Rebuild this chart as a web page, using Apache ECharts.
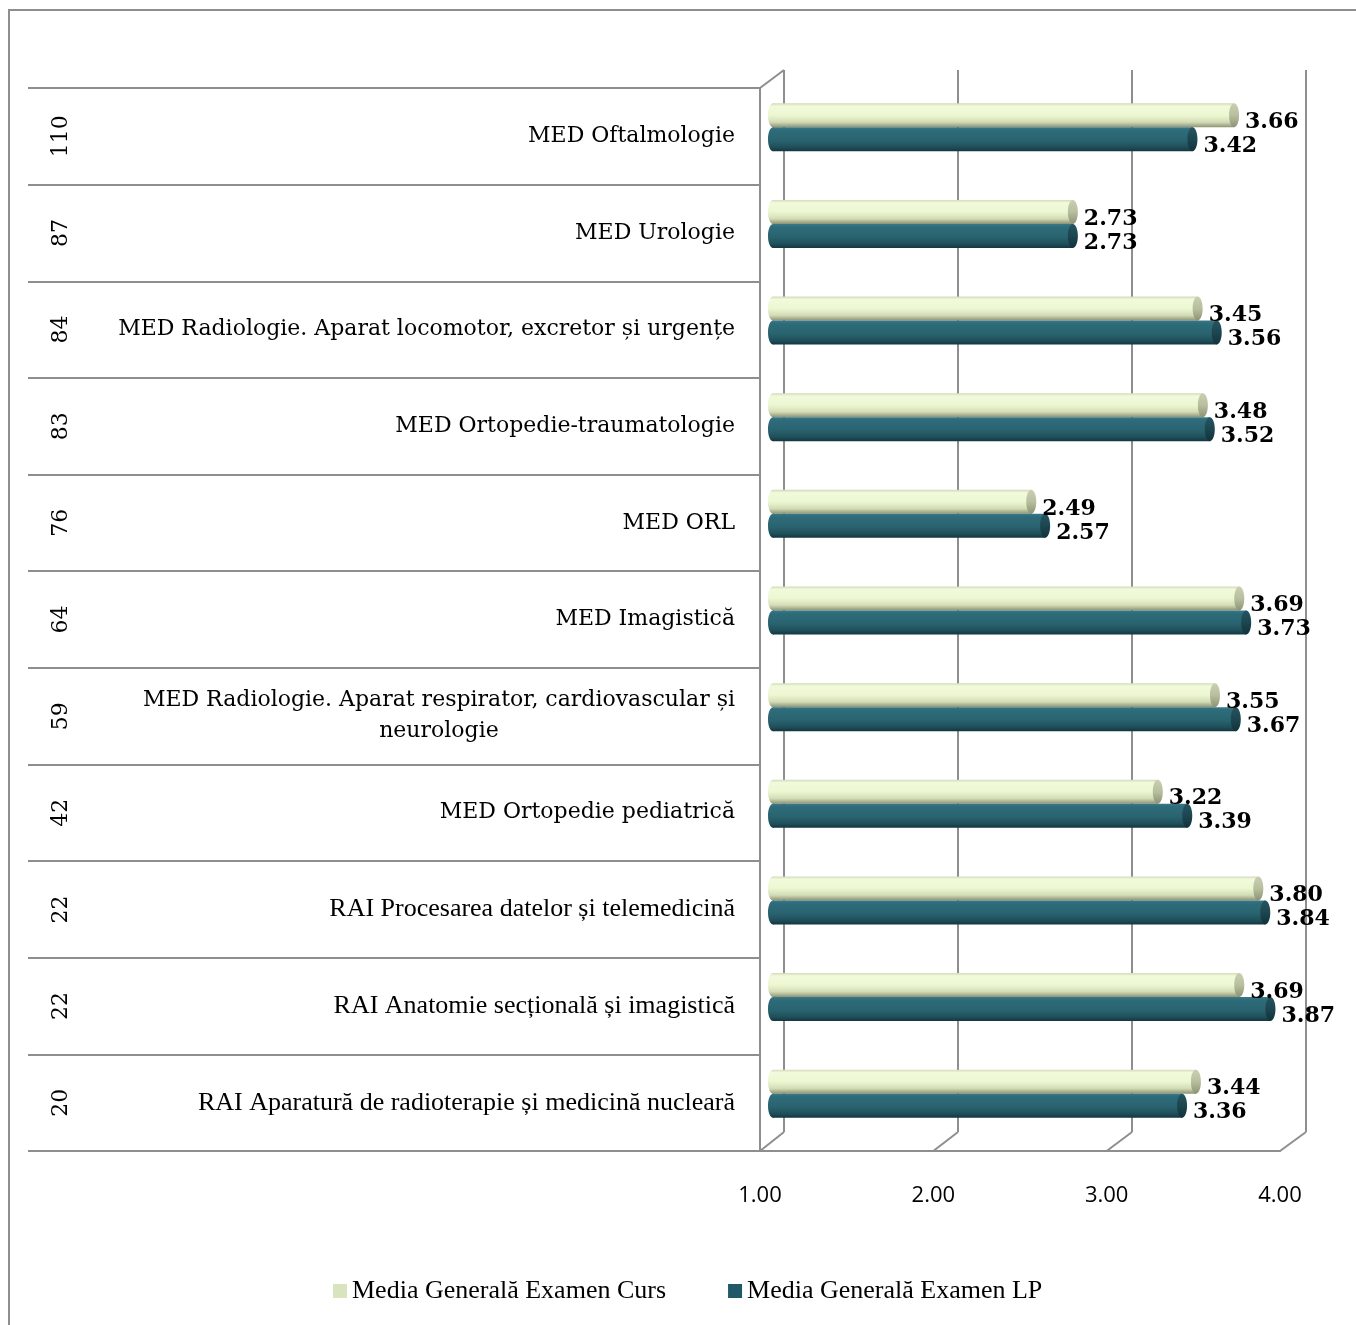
<!DOCTYPE html>
<html>
<head>
<meta charset="utf-8">
<script src="https://cdn.jsdelivr.net/npm/echarts@6/dist/echarts.min.js"></script>
<style>html,body{margin:0;padding:0;background:#fff;}#c{width:1356px;height:1325px;}</style>
</head>
<body>
<div id="c"></div>
<script>
// ---- data ----
const categories = [
  'MED Oftalmologie',
  'MED Urologie',
  'MED Radiologie. Aparat locomotor, excretor și urgențe',
  'MED Ortopedie-traumatologie',
  'MED ORL',
  'MED Imagistică',
  'MED Radiologie. Aparat respirator, cardiovascular și neurologie',
  'MED Ortopedie pediatrică',
  'RAI Procesarea datelor și telemedicină',
  'RAI Anatomie secțională și imagistică',
  'RAI Aparatură de radioterapie și medicină nucleară'
];
const counts = ['110', '87', '84', '83', '76', '64', '59', '42', '22', '22', '20'];
const cursValues = [3.66, 2.73, 3.45, 3.48, 2.49, 3.69, 3.55, 3.22, 3.80, 3.69, 3.44];
const lpValues   = [3.42, 2.73, 3.56, 3.52, 2.57, 3.73, 3.67, 3.39, 3.84, 3.87, 3.36];
const seriesNames = ['Media Generală Examen Curs', 'Media Generală Examen LP'];
const axisMin = 1, axisMax = 4, axisInterval = 1;

// ---- layout / style ----
const W = 1356, H = 1325;
const FRONT = {left: 760, right: 76, top: 88, bottom: 174};
const BACK = {left: 784, right: 50, top: 70, bottom: 193};
const DEPTH_DX = 13, PAIR_DY = -9, BAR_H = 24, CAP_RX = 5;
const GRID_COLOR = '#8E8E8E';

const styles = [
  {
    body: [[0, '#D2DABA'], [0.12, '#F1FADB'], [0.5, '#ECF7D2'], [0.78, '#D3DCB6'], [1, '#8C9273']],
    cap: [[0, '#C9CFB2'], [0.5, '#B8BF9F'], [1, '#8C9273']],
    legend: '#D7E4BD'
  },
  {
    body: [[0, '#3A7887'], [0.12, '#2E6C7B'], [0.55, '#29636F'], [0.82, '#1F505B'], [1, '#133640']],
    cap: [[0, '#25545F'], [0.5, '#1C4650'], [1, '#12323A']],
    legend: '#215968'
  }
];

function grad(stops) {
  return new echarts.graphic.LinearGradient(0, 0, 0, 1,
    stops.map(s => ({offset: s[0], color: s[1]})));
}

function wrap(text, maxChars) {
  if (text.length <= maxChars) return [text];
  const words = text.split(' ');
  const lines = []; let cur = '';
  words.forEach(w => {
    if ((cur + ' ' + w).trim().length > maxChars) { lines.push(cur); cur = w; }
    else cur = (cur + ' ' + w).trim();
  });
  if (cur) lines.push(cur);
  return lines;
}

function makeRender(sIdx) {
  return function (params, api) {
    const v = api.value(0), idx = api.value(1);
    const p0 = api.coord([axisMin, idx]);
    const p1 = api.coord([v, idx]);
    const yc = p0[1] + PAIR_DY + (sIdx === 0 ? -BAR_H / 2 : BAR_H / 2);
    const x0 = p0[0] + DEPTH_DX, x1 = p1[0] + DEPTH_DX;
    const st = styles[sIdx];
    return {
      type: 'group',
      children: [
        {type: 'ellipse', shape: {cx: x0, cy: yc, rx: CAP_RX, ry: BAR_H / 2}, style: {fill: grad(st.body)}},
        {type: 'rect', shape: {x: x0, y: yc - BAR_H / 2, width: x1 - x0, height: BAR_H}, style: {fill: grad(st.body)}},
        {type: 'ellipse', shape: {cx: x1, cy: yc, rx: CAP_RX, ry: BAR_H / 2}, style: {fill: grad(st.cap)}},
        {type: 'text', z2: 10, style: {
          text: v.toFixed(2), x: x1 + CAP_RX + 6, y: yc + 7,
          verticalAlign: 'middle', align: 'left',
          font: 'bold 22px "DejaVu Serif"', fill: '#000'
        }}
      ]
    };
  };
}

const chart = echarts.init(document.getElementById('c'), null, {renderer: 'canvas'});

const option = {
  backgroundColor: '#fff',
  animation: false,
  grid: [
    {left: FRONT.left, right: FRONT.right, top: FRONT.top, bottom: FRONT.bottom, containLabel: false},
    {left: BACK.left, right: BACK.right, top: BACK.top, bottom: BACK.bottom, containLabel: false}
  ],
  legend: {
    data: seriesNames,
    left: 328, top: 1273,
    itemWidth: 14, itemHeight: 14, itemGap: 62,
    icon: 'rect',
    textStyle: {fontFamily: 'Liberation Serif', fontSize: 26, color: '#000'}
  },
  xAxis: [
    {
      type: 'value', gridIndex: 0, min: axisMin, max: axisMax, interval: axisInterval,
      axisLine: {show: true, lineStyle: {color: GRID_COLOR, width: 2}},
      axisTick: {show: false},
      splitLine: {show: false},
      axisLabel: {
        margin: 34, formatter: v => v.toFixed(2),
        fontFamily: 'Open Sans', fontSize: 22, color: '#000'
      }
    },
    {
      type: 'value', gridIndex: 1, min: axisMin, max: axisMax, interval: axisInterval,
      axisLine: {show: false}, axisTick: {show: false}, axisLabel: {show: false},
      splitLine: {show: true, lineStyle: {color: GRID_COLOR, width: 2}}
    }
  ],
  yAxis: [
    {
      type: 'category', gridIndex: 0, inverse: true, data: categories,
      axisLine: {show: true, lineStyle: {color: GRID_COLOR, width: 2}},
      axisTick: {show: true, length: 732, interval: 0, lineStyle: {color: GRID_COLOR, width: 2}},
      splitLine: {show: false},
      axisLabel: {
        interval: 0, margin: 25,
        formatter: function (v) {
          const key = v.indexOf('RAI') === 0 ? 't' : 'c';
          return wrap(v, 55).map(l => '{' + key + '|' + l + '}').join('\n');
        },
        rich: {
          c: {fontFamily: 'DejaVu Serif', fontSize: 22, lineHeight: 31, color: '#000', align: 'center'},
          t: {fontFamily: 'Liberation Serif', fontSize: 26, lineHeight: 31, color: '#000', align: 'center'}
        }
      }
    },
    {
      type: 'category', gridIndex: 0, inverse: true, data: counts,
      position: 'left', offset: 688,
      axisLine: {show: false}, axisTick: {show: false}, splitLine: {show: false},
      axisLabel: {interval: 0, margin: 0, rotate: 90, fontFamily: 'DejaVu Serif', fontSize: 22, color: '#000'}
    },
    {type: 'value', gridIndex: 1, show: false}
  ],
  series: [0, 1].map(i => ({
    type: 'custom',
    name: seriesNames[i],
    xAxisIndex: 0, yAxisIndex: 0,
    clip: false, z: 5,
    itemStyle: {color: styles[i].legend},
    encode: {x: 0, y: 1},
    data: (i === 0 ? cursValues : lpValues).map((v, k) => [v, k]),
    renderItem: makeRender(i)
  }))
};

chart.setOption(option);

// 3D frame edges (floor / wall diagonals) from the axes' own pixel mapping
const frontBottom = H - FRONT.bottom, backBottom = H - BACK.bottom;
const lines = [];
for (let v = axisMin; v <= axisMax; v += axisInterval) {
  const fx = chart.convertToPixel({xAxisIndex: 0}, v);
  const bx = chart.convertToPixel({xAxisIndex: 1}, v);
  lines.push([bx, backBottom, fx, frontBottom]);
}
const fx0 = chart.convertToPixel({xAxisIndex: 0}, axisMin);
const bx0 = chart.convertToPixel({xAxisIndex: 1}, axisMin);
lines.push([fx0, FRONT.top, bx0, BACK.top]);

chart.setOption({
  graphic: lines.map(l => ({
    type: 'line', z: 1, silent: true,
    shape: {x1: l[0], y1: l[1], x2: l[2], y2: l[3]},
    style: {stroke: GRID_COLOR, lineWidth: 2}
  })).concat([{
    type: 'rect', z: 0, silent: true,
    shape: {x: 9, y: 10, width: 1400, height: 1400},
    style: {fill: null, stroke: GRID_COLOR, lineWidth: 2}
  }])
});
</script>
</body>
</html>
